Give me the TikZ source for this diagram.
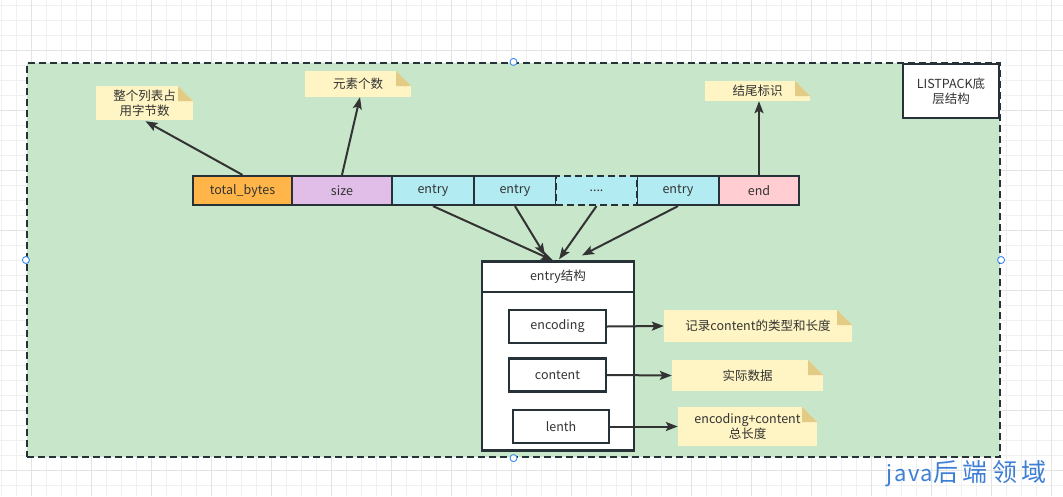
\documentclass[tikz,border=0pt]{standalone}
\usepackage{fontspec}
\setmainfont{Noto Sans CJK SC}
\usetikzlibrary{arrows.meta,calc}
\definecolor{gridminor}{HTML}{F0F0F0}
\definecolor{gridmajor}{HTML}{E3E3E3}
\definecolor{framefill}{HTML}{C8E6C9}
\definecolor{linec}{HTML}{263238}
\definecolor{txtc}{HTML}{333333}
\definecolor{orangec}{HTML}{FFB547}
\definecolor{purplec}{HTML}{E1BEE7}
\definecolor{cyanc}{HTML}{B2EBF2}
\definecolor{pinkc}{HTML}{FFCDD2}
\definecolor{notefill}{HTML}{FFF4C3}
\definecolor{foldc}{HTML}{E2CC85}
\definecolor{handlec}{HTML}{3C87F5}
\definecolor{footc}{HTML}{3E7FD6}
\tikzset{
  basefont/.style={font=\fontsize{12.5}{15}\selectfont, text=txtc},
  cell/.style={basefont, draw=linec, line width=2.2pt, minimum height=29pt, inner sep=0pt},
  plainbox/.style={basefont, draw=linec, line width=2.2pt, fill=white, inner sep=0pt, align=center},
  notebox/.style={basefont, fill=notefill, inner sep=0pt, align=center,
    path picture={
      \coordinate (ne) at (path picture bounding box.north east);
      \fill[framefill] (ne) -- ($(ne)+(-15pt,0pt)$) -- ($(ne)+(0pt,-15pt)$) -- cycle;
      \fill[foldc] ($(ne)+(-15pt,0pt)$) -- ($(ne)+(-15pt,-15pt)$) -- ($(ne)+(0pt,-15pt)$) -- cycle;
    }},
  conn/.style={draw=txtc, line width=2pt, -{Stealth[length=12pt,width=9pt,inset=2.5pt]}},
  handle/.style={circle, draw=handlec, fill=white, line width=0.9pt, minimum size=7pt, inner sep=0pt},
}
\begin{document}
\begin{tikzpicture}[x=1pt,y=-1pt]
\useasboundingbox (0,0) rectangle (1063,496);
\fill[white] (0,0) rectangle (1063,496);
% grid
\foreach \k in {0,...,70} {\draw[gridminor, line width=0.8pt] ({1.7+15*\k},0) -- ({1.7+15*\k},496);}
\foreach \k in {0,...,32} {\draw[gridminor, line width=0.8pt] (0,{5+15*\k}) -- (1063,{5+15*\k});}
\foreach \k in {0,...,17} {\draw[gridmajor, line width=0.8pt] ({31.7+60*\k},0) -- ({31.7+60*\k},496);}
\foreach \k in {0,...,7} {\draw[gridmajor, line width=0.8pt] (0,{50+60*\k}) -- (1063,{50+60*\k});}
% frame
\node[draw=linec, fill=framefill, line width=2.2pt, dash pattern=on 7pt off 4pt,
      minimum width=973pt, minimum height=394pt, inner sep=0pt] (frame) at (513.5,260) {};
% title
\node[plainbox, minimum width=96pt, minimum height=54pt] (title) at (951,91) {LISTPACK底\\层结构};
% notes
\node[notebox, minimum width=97pt, minimum height=34pt] (nTotal) at (144.5,103) {整个列表占\\用字节数};
\node[notebox, minimum width=106pt, minimum height=26pt] (nSize) at (358,84) {元素个数};
\node[notebox, minimum width=105pt, minimum height=20pt] (nEnd) at (757.5,91) {结尾标识};
\node[notebox, minimum width=188pt, minimum height=32pt] (nEnc) at (758,326) {记录content的类型和长度};
\node[notebox, minimum width=151pt, minimum height=31pt] (nCont) at (747.5,375.5) {实际数据};
\node[notebox, minimum width=139pt, minimum height=39pt] (nLen) at (747.5,426.5) {encoding+content\\总长度};
% row
\node[cell, fill=orangec, minimum width=99pt] (total) at (242.5,190.5) {total\_bytes};
\node[cell, fill=purplec, minimum width=100pt] (size) at (342,190.5) {size};
\node[cell, fill=cyanc, minimum width=82pt] (e1) at (433,190.5) {entry};
\node[cell, fill=cyanc, minimum width=82pt] (e2) at (515,190.5) {entry};
\node[cell, fill=cyanc, minimum width=82pt] (e3) at (678,190.5) {entry};
\node[cell, fill=cyanc, minimum width=81pt, dash pattern=on 7pt off 4pt] (dots) at (596.5,190.5) {....};
\node[cell, fill=pinkc, minimum width=80pt] (end) at (759,190.5) {end};
% entry structure
\node[plainbox, minimum width=152pt, minimum height=189pt] (struct) at (558,356) {};
\node[plainbox, minimum width=152pt, minimum height=30pt] (hdr) at (558,277) {entry结构};
\node[plainbox, minimum width=97pt, minimum height=33pt] (enc) at (557.5,326.5) {encoding};
\node[plainbox, minimum width=97pt, minimum height=33pt] (cont) at (557.5,375) {content};
\node[plainbox, minimum width=96pt, minimum height=33pt] (len) at (561,426.5) {lenth};
% target coordinates on the structure
\coordinate (t1) at ($(struct.north)+(-5pt,0pt)$);
\coordinate (t2) at ($(struct.north)+(-13pt,5pt)$);
\coordinate (t3) at ($(struct.north)+(1pt,1pt)$);
\coordinate (t4) at ($(struct.north)+(24pt,5pt)$);
% connectors
\draw[conn] (total.north) -- ($(nTotal.south)+(1pt,-1pt)$);
\draw[conn] (size.north) -- ($(nSize.south)+(2pt,0pt)$);
\draw[conn] (end.north) -- ($(nEnd.south)+(1.5pt,0pt)$);
\draw[conn] (e1.south) -- (t1);
\draw[conn] (e2.south) -- (t2);
\draw[conn] (dots.south) -- (t3);
\draw[conn] (e3.south) -- (t4);
\draw[conn] (enc.east) -- (nEnc.west);
\draw[conn] (cont.east) -- (nCont.west);
\draw[conn] (len.east) -- (nLen.west);
% selection handles
\node[handle] (h1) at (frame.north) {};
\node[handle] (h2) at (frame.west) {};
\node[handle] (h3) at (frame.east) {};
\node[handle] (h4) at (frame.south) {};
% footer
\node[anchor=west, inner sep=0pt, text=footc] (foot) at (886,474)
  {{\fontsize{22}{24}\selectfont\addfontfeature{LetterSpace=8}java}{\fontsize{25}{27}\selectfont\addfontfeature{LetterSpace=18}后端领域}};
\end{tikzpicture}
\end{document}
